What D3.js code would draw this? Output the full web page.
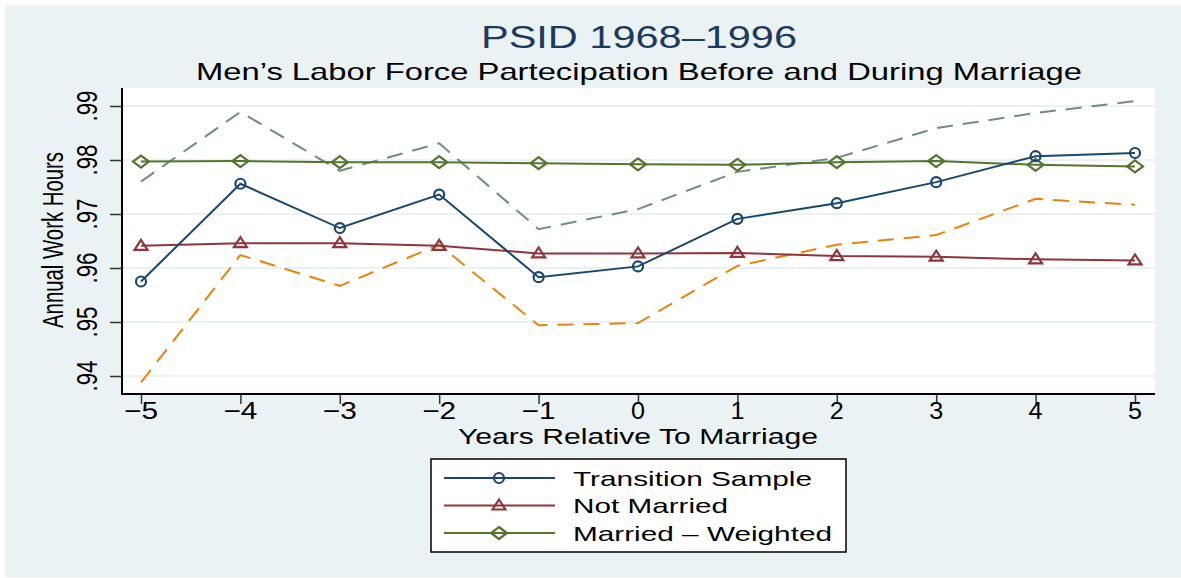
<!DOCTYPE html>
<html>
<head>
<meta charset="utf-8">
<script src="https://cdn.jsdelivr.net/npm/d3@7"></script>
<style>
  html, body { margin: 0; padding: 0; background: #ffffff; }
  svg { display: block; }
</style>
</head>
<body>
<svg></svg>
<script>
// Chart data
const years = [-5, -4, -3, -2, -1, 0, 1, 2, 3, 4, 5];
const transitionSample = [0.9575, 0.9756, 0.9674, 0.9736, 0.9583, 0.9603, 0.9691, 0.9720, 0.9759, 0.9807, 0.9813];
const notMarried = [0.9641, 0.9646, 0.9646, 0.9641, 0.9627, 0.9627, 0.9628, 0.9622, 0.9621, 0.9616, 0.9614];
const marriedWeighted = [0.9797, 0.9798, 0.9796, 0.9796, 0.9794, 0.9792, 0.9791, 0.9796, 0.9798, 0.9791, 0.9788];
const upperBound = [0.9760, 0.9889, 0.9780, 0.9831, 0.9672, 0.9709, 0.9778, 0.9804, 0.9859, 0.9887, 0.9909];
const lowerBound = [0.9388, 0.9624, 0.9567, 0.9643, 0.9494, 0.9498, 0.9604, 0.9643, 0.9661, 0.9728, 0.9717];
const yTicks = [0.94, 0.95, 0.96, 0.97, 0.98, 0.99];
const yTickLabels = [".94", ".95", ".96", ".97", ".98", ".99"];
const legendLabels = ["Transition Sample", "Not Married", "Married \u2013 Weighted"];

const width = 1181, height = 578;
const svg = d3.select("svg").attr("width", width).attr("height", height);

// Stata s2color-like colours
const bg = "#eaf2f3";
const navy = "#1a476f", maroon = "#90353b", green = "#55752f";
const teal = "#6e8e84", orange = "#e8840c";
const font = "'Liberation Sans', Arial, sans-serif";

// plot region
const plot = { left: 122, right: 1155, top: 88, bottom: 394 };

const x = d3.scaleLinear().domain([-5, 5]).range([141, 1135]);
const y = d3.scaleLinear().domain([0.94, 0.99]).range([376, 106]);

// background
svg.append("rect").attr("x", 5).attr("y", 5).attr("width", width - 5).attr("height", height - 6).attr("fill", bg);
svg.append("rect")
    .attr("x", plot.left).attr("y", plot.top)
    .attr("width", plot.right - plot.left).attr("height", plot.bottom - plot.top)
    .attr("fill", "#ffffff");

// gridlines
svg.append("g").selectAll("line").data(yTicks).join("line")
    .attr("x1", plot.left).attr("x2", plot.right)
    .attr("y1", d => y(d)).attr("y2", d => y(d))
    .attr("stroke", bg).attr("stroke-width", 2);

// Titles
svg.append("text").attr("x", 639).attr("y", 48).attr("text-anchor", "middle")
    .attr("font-family", font).attr("font-size", 31).attr("fill", "#1c3a5e")
    .attr("textLength", 316).attr("lengthAdjust", "spacingAndGlyphs")
    .text("PSID 1968\u20131996");
svg.append("text").attr("x", 639).attr("y", 80).attr("text-anchor", "middle")
    .attr("font-family", font).attr("font-size", 24).attr("fill", "#000")
    .attr("textLength", 886).attr("lengthAdjust", "spacingAndGlyphs")
    .text("Men\u2019s Labor Force Partecipation Before and During Marriage");

// Y axis
const yAxis = svg.append("g").attr("transform", `translate(${plot.left},0)`)
    .call(d3.axisLeft(y).tickValues(yTicks).tickSize(12).tickFormat(""));
yAxis.select(".domain").remove();
yAxis.selectAll(".tick line").attr("stroke", "#333").attr("stroke-width", 1.5);
svg.append("g").selectAll("text").data(yTicks).join("text")
    .attr("transform", (d, i) => `translate(97,${y(d)}) rotate(-90)`)
    .attr("text-anchor", "middle")
    .attr("font-family", font).attr("font-size", 29).attr("fill", "#000")
    .attr("textLength", 31).attr("lengthAdjust", "spacingAndGlyphs")
    .text((d, i) => yTickLabels[i]);
svg.append("text").attr("transform", "translate(63,240) rotate(-90)")
    .attr("text-anchor", "middle")
    .attr("font-family", font).attr("font-size", 29).attr("fill", "#000")
    .attr("textLength", 176).attr("lengthAdjust", "spacingAndGlyphs")
    .text("Annual Work Hours");

// X axis
const xAxis = svg.append("g").attr("transform", `translate(0,${plot.bottom})`)
    .call(d3.axisBottom(x).tickValues(years).tickSize(10).tickFormat(""));
xAxis.select(".domain").remove();
xAxis.selectAll(".tick line").attr("stroke", "#333").attr("stroke-width", 1.5);
svg.append("g").selectAll("text").data(years).join("text")
    .attr("x", d => x(d)).attr("y", 419)
    .attr("text-anchor", "middle")
    .attr("font-family", font).attr("font-size", 24).attr("fill", "#000")
    .attr("textLength", d => d < 0 ? 34 : 14).attr("lengthAdjust", "spacingAndGlyphs")
    .text(d => d < 0 ? "\u2212" + Math.abs(d) : d);
svg.append("text").attr("x", 638).attr("y", 444).attr("text-anchor", "middle")
    .attr("font-family", font).attr("font-size", 22).attr("fill", "#000")
    .attr("textLength", 360).attr("lengthAdjust", "spacingAndGlyphs")
    .text("Years Relative To Marriage");

// axis lines
svg.append("line").attr("x1", plot.left).attr("x2", plot.left).attr("y1", plot.top).attr("y2", plot.bottom + 1)
    .attr("stroke", "#000").attr("stroke-width", 2);
svg.append("line").attr("x1", plot.left - 1).attr("x2", plot.right).attr("y1", plot.bottom).attr("y2", plot.bottom)
    .attr("stroke", "#000").attr("stroke-width", 2);

// markers
const circlePath = "M-5,0A5,5 0 1,0 5,0A5,5 0 1,0 -5,0Z";
const trianglePath = "M0,-6L6.5,4L-6.5,4Z";
const diamondPath = "M0,-6L8,0L0,6L-8,0Z";

const line = d3.line().x((d, i) => x(years[i])).y(d => y(d));

// dashed bounds
function drawDashed(values, color) {
    svg.append("path").datum(values).attr("d", line)
        .attr("fill", "none").attr("stroke", color).attr("stroke-width", 2)
        .attr("stroke-dasharray", "16,10");
}
drawDashed(upperBound, teal);
drawDashed(lowerBound, orange);

function drawSeries(values, color, marker) {
    svg.append("path").datum(values).attr("d", line)
        .attr("fill", "none").attr("stroke", color).attr("stroke-width", 2);
    svg.append("g").selectAll("path").data(values).join("path")
        .attr("transform", (d, i) => `translate(${x(years[i])},${y(d)})`)
        .attr("d", marker)
        .attr("fill", "none").attr("stroke", color).attr("stroke-width", 2.2);
}
drawSeries(notMarried, maroon, trianglePath);
drawSeries(marriedWeighted, green, diamondPath);
drawSeries(transitionSample, navy, circlePath);

// Legend
const legend = svg.append("g");
legend.append("rect").attr("x", 431).attr("y", 459).attr("width", 415).attr("height", 93)
    .attr("fill", "#ffffff").attr("stroke", "#000").attr("stroke-width", 1.5);
const legendColors = [navy, maroon, green];
const legendMarkers = [circlePath, trianglePath, diamondPath];
const legendLengths = [239, 155, 259];
legendLabels.forEach((label, i) => {
    const ly = 478 + i * 27.5;
    legend.append("line").attr("x1", 444).attr("x2", 555).attr("y1", ly).attr("y2", ly)
        .attr("stroke", legendColors[i]).attr("stroke-width", 2);
    legend.append("path").attr("transform", `translate(499,${ly})`).attr("d", legendMarkers[i])
        .attr("fill", "none").attr("stroke", legendColors[i]).attr("stroke-width", 2.2);
    legend.append("text").attr("x", 573).attr("y", ly + 7.5)
        .attr("font-family", font).attr("font-size", 21).attr("fill", "#000")
        .attr("textLength", legendLengths[i]).attr("lengthAdjust", "spacingAndGlyphs")
        .text(label);
});
</script>
</body>
</html>
